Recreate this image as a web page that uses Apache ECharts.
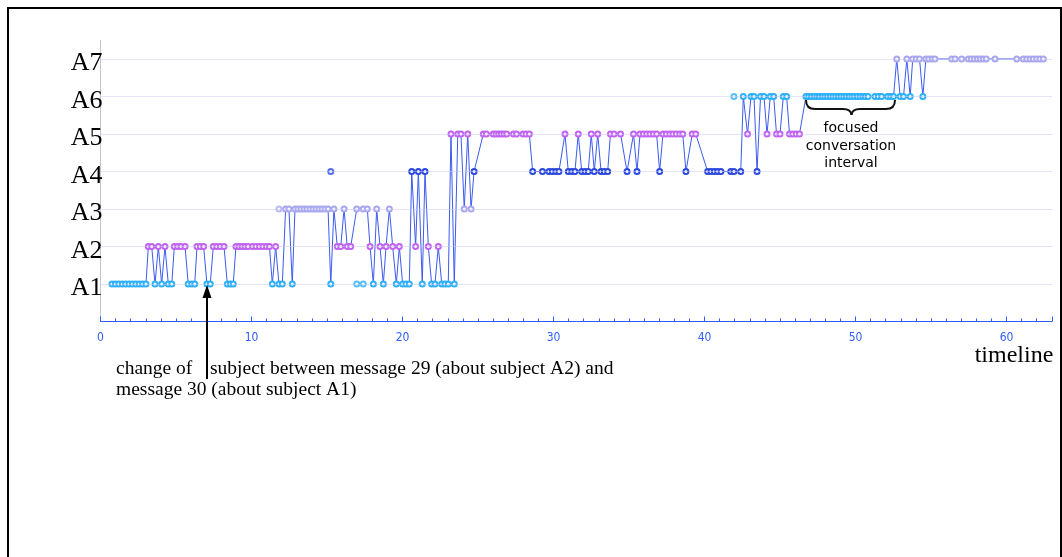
<!DOCTYPE html>
<html><head><meta charset="utf-8">
<script src="https://cdn.jsdelivr.net/npm/echarts@6/dist/echarts.min.js"></script>
<style>html,body{margin:0;padding:0;background:#fff}#c{width:1062px;height:557px}</style>
</head><body><div id="c"></div><script>
const subjectLabels = ['A1','A2','A3','A4','A5','A6','A7'];
const gridLevels = [1,2,3,4,5,6,7];

// message times on the timeline (connected sequence)
const timeline = [
 0.76,0.99,1.21,1.44,1.66,1.89,2.11,2.34,2.56,2.79,3.01,
 3.17,3.39,3.61,3.83,4.05,4.27,4.49,4.72,
 4.89,5.11,5.33,5.6,
 5.81,6.04,6.24,
 6.39,6.61,6.83,
 7.05,7.27,
 7.47,7.7,7.93,8.18,
 8.4,8.6,8.79,
 8.97,9.17,9.37,9.57,9.77,
 10.07,10.3,10.53,10.76,10.99,11.19,
 11.38,11.6,11.82,12.04,12.26,12.48,12.7,
 12.88,13.08,13.28,13.48,13.67,13.87,14.07,14.27,14.47,14.67,14.87,15.07,
 15.25,15.46,15.68,15.91,16.13,16.34,16.57,
 16.97,17.4,17.67,17.85,18.07,18.29,18.51,18.73,18.91,19.13,19.35,19.59,19.79,
 20.01,20.23,20.45,20.61,20.87,21.05,21.31,21.49,21.71,21.93,22.15,22.37,22.6,22.81,23.03,
 23.21,23.43,23.66,23.87,24.09,24.32,24.54,24.74,
 25.35,25.55,26.01,26.19,26.37,26.54,26.72,26.9,27.35,27.55,27.98,28.18,28.4,
 28.62,29.27,29.7,29.92,30.15,30.36,
 30.76,30.98,31.21,31.42,31.64,31.87,32.09,32.3,32.5,32.7,32.93,33.15,33.36,33.59,
 33.77,34.01,34.44,34.87,35.3,35.53,
 35.73,35.95,36.17,36.39,36.61,36.83,37.03,
 37.25,37.47,37.7,37.91,38.13,38.36,38.56,38.77,39.19,39.42,
 40.21,40.43,40.65,40.87,41.09,41.74,41.95,42.4,
 42.57,42.85,43.08,43.28,43.48,43.71,43.94,44.14,44.36,44.58,44.77,45.0,45.22,45.44,
 45.63,45.85,46.07,46.29,
 46.72,46.9,47.08,47.26,47.44,47.61,47.79,47.97,48.15,48.33,48.51,48.69,48.87,49.04,49.22,49.4,49.58,49.76,49.94,50.12,50.3,50.48,50.65,50.83,
 51.29,51.51,51.73,52.13,52.33,52.52,
 52.73,52.96,53.18,53.4,53.62,53.79,54.02,54.24,54.46,54.66,54.85,55.07,55.26,
 56.37,56.59,57.03,57.47,57.67,57.87,58.07,58.26,58.46,58.66,59.24,60.68,
 61.11,61.34,61.56,61.77,62.0,62.22,62.44
];
// subject (A1..A7 -> 1..7) of each message
const subject = [
 1,1,1,1,1,1,1,1,1,1,1,
 2,2,1,2,1,2,1,1,
 2,2,2,2,
 1,1,1,
 2,2,2,
 1,1,
 2,2,2,2,
 1,1,1,
 2,2,2,2,2,
 2,2,2,2,2,2,
 1,2,1,1,3,3,1,
 3,3,3,3,3,3,3,3,3,3,3,3,
 1,3,2,2,3,2,2,
 3,3,3,2,1,3,2,1,2,3,2,1,2,
 1,1,1,4,2,4,1,4,2,1,1,2,1,1,1,
 5,1,5,5,3,5,3,4,
 5,5,5,5,5,5,5,5,5,5,5,5,5,
 4,4,4,4,4,4,
 5,4,4,4,5,4,4,4,5,4,5,4,4,4,
 5,5,5,4,5,4,
 5,5,5,5,5,5,4,
 5,5,5,5,5,5,5,4,5,5,
 4,4,4,4,4,4,4,4,
 6,5,6,6,4,6,6,5,6,6,5,5,6,6,
 5,5,5,5,
 6,6,6,6,6,6,6,6,6,6,6,6,6,6,6,6,6,6,6,6,6,6,6,6,
 6,6,6,6,6,6,
 7,6,6,7,6,7,7,7,6,7,7,7,7,
 7,7,7,7,7,7,7,7,7,7,7,7,
 7,7,7,7,7,7,7
];
// stray (unconnected) messages
const strayTime = [11.82, 15.25, 16.97, 17.4, 41.95];
const straySubject = [3, 4, 1, 1, 6];

const levelColors = ['#2cb0f7','#c262f2','#a8a6ee','#2a48de','#c262f2','#2cb0f7','#a8a6ee'];
const toItem = (t, s) => ({ value: [t, s], itemStyle: { color: levelColors[s - 1] } });
const lineData = timeline.map((t, i) => toItem(t, subject[i]));
const strayData = strayTime.map((t, i) => toItem(t, straySubject[i]));

const serif = '"Liberation Serif","Times New Roman",serif';
const axisBlue = '#2f5cff';
const braceStyle = { fill: 'none', stroke: '#111', lineWidth: 2 };

const chart = echarts.init(document.getElementById('c'), null, { renderer: 'canvas' });
chart.setOption({
  backgroundColor: '#ffffff',
  animation: false,
  grid: { left: 100.5, right: 10.2, top: 40.25, bottom: 235.5, containLabel: false },
  xAxis: {
    type: 'value', min: 0, max: 63, interval: 10, offset: 2.5,
    axisLine: { lineStyle: { color: axisBlue, width: 1 } },
    axisTick: { show: true, inside: true, length: 5, lineStyle: { color: axisBlue } },
    minorTick: { show: true, splitNumber: 10, length: 3, lineStyle: { color: axisBlue } },
    splitLine: { show: false },
    axisLabel: {
      color: axisBlue, fontSize: 12, margin: 8,
      fontFamily: '"DejaVu Sans Condensed","Liberation Sans Narrow",sans-serif',
      formatter: v => (v % 10 === 0 ? String(v) : '')
    }
  },
  yAxis: {
    type: 'value', min: 0, max: 7.5, interval: 1, offset: 6,
    axisLine: { show: true, lineStyle: { color: '#c4c4c4', width: 1 } },
    axisTick: { show: false },
    splitLine: { show: false },
    axisLabel: {
      color: '#000', fontSize: 26, fontFamily: serif, margin: -8,
      formatter: v => (Number.isInteger(v) && v >= 1 && v <= 7 ? '{s|' + subjectLabels[v - 1] + '}' : ''),
      rich: { s: { fontSize: 26, fontFamily: serif, color: '#000', padding: [9, 0, 0, 0] } }
    }
  },
  series: [
    {
      type: 'line', data: [], z: 1, silent: true,
      markLine: {
        silent: true, symbol: 'none', label: { show: false },
        lineStyle: { type: 'dotted', color: '#c6c6f4', width: 1 },
        data: gridLevels.map(v => ({ yAxis: v }))
      }
    },
    {
      type: 'line', data: lineData, z: 3,
      symbol: 'emptyCircle', symbolSize: 5, showAllSymbol: true,
      lineStyle: { color: '#3c5af0', width: 1 },
      itemStyle: { borderWidth: 1 },
      emphasis: { disabled: true }
    },
    {
      type: 'scatter', data: strayData, z: 4,
      symbol: 'emptyCircle', symbolSize: 5,
      itemStyle: { borderWidth: 1 },
      emphasis: { disabled: true }
    }
  ],
  graphic: [
    { type: 'rect', silent: true, z: 100, shape: { x: 8, y: 8, width: 1053, height: 560 },
      style: { fill: 'none', stroke: '#000', lineWidth: 2 } },
    { type: 'bezierCurve', silent: true, z: 100, shape: { x1: 806, y1: 100, cpx1: 806, cpy1: 109, x2: 815, y2: 109 }, style: braceStyle },
    { type: 'line', silent: true, z: 100, shape: { x1: 815, y1: 109, x2: 843, y2: 109 }, style: braceStyle },
    { type: 'bezierCurve', silent: true, z: 100, shape: { x1: 843, y1: 109, cpx1: 851, cpy1: 109, x2: 851.5, y2: 115 }, style: braceStyle },
    { type: 'bezierCurve', silent: true, z: 100, shape: { x1: 851.5, y1: 115, cpx1: 852, cpy1: 109, x2: 860, y2: 109 }, style: braceStyle },
    { type: 'line', silent: true, z: 100, shape: { x1: 860, y1: 109, x2: 886, y2: 109 }, style: braceStyle },
    { type: 'bezierCurve', silent: true, z: 100, shape: { x1: 886, y1: 109, cpx1: 895, cpy1: 109, x2: 895, y2: 100 }, style: braceStyle },
    { type: 'text', silent: true, z: 100, x: 851, y: 128,
      style: { text: 'focused', fontSize: 14, fontFamily: '"DejaVu Sans",sans-serif', fill: '#000', align: 'center', verticalAlign: 'middle' } },
    { type: 'text', silent: true, z: 100, x: 851, y: 146,
      style: { text: 'conversation', fontSize: 14, fontFamily: '"DejaVu Sans",sans-serif', fill: '#000', align: 'center', verticalAlign: 'middle' } },
    { type: 'text', silent: true, z: 100, x: 851, y: 163,
      style: { text: 'interval', fontSize: 14, fontFamily: '"DejaVu Sans",sans-serif', fill: '#000', align: 'center', verticalAlign: 'middle' } },
    { type: 'line', silent: true, z: 100, shape: { x1: 207, y1: 379, x2: 207, y2: 295 },
      style: { stroke: '#000', lineWidth: 2 } },
    { type: 'polygon', silent: true, z: 100, shape: { points: [[207, 285], [202.5, 298], [211.5, 298]] },
      style: { fill: '#000' } },
    { type: 'text', silent: true, z: 100, x: 116, y: 369,
      style: { text: 'change of', fontSize: 19.5, fontFamily: serif, fill: '#000', align: 'left', verticalAlign: 'middle' } },
    { type: 'text', silent: true, z: 100, x: 210, y: 369,
      style: { text: 'subject between message 29 (about subject A2) and', fontSize: 19.5, fontFamily: serif, fill: '#000', align: 'left', verticalAlign: 'middle' } },
    { type: 'text', silent: true, z: 100, x: 116, y: 390,
      style: { text: 'message 30 (about subject A1)', fontSize: 19.5, fontFamily: serif, fill: '#000', align: 'left', verticalAlign: 'middle' } },
    { type: 'text', silent: true, z: 100, x: 1014, y: 356,
      style: { text: 'timeline', fontSize: 24, fontFamily: serif, fill: '#000', align: 'center', verticalAlign: 'middle' } }
  ]
});
</script></body></html>
